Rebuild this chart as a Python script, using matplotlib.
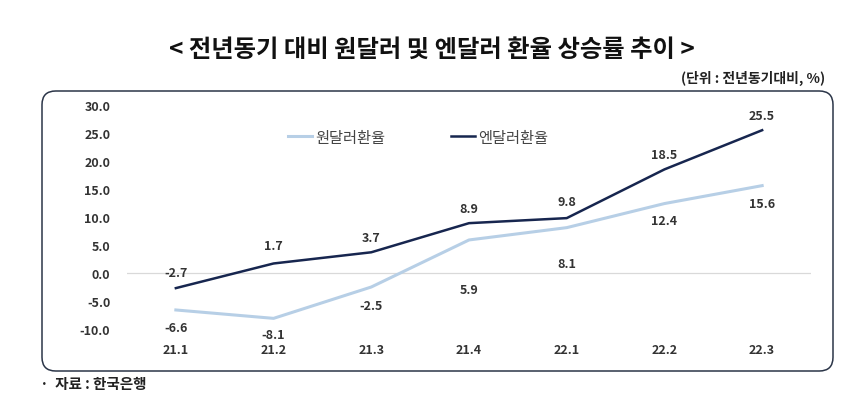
import matplotlib
matplotlib.use("Agg")
import matplotlib.pyplot as plt
from matplotlib.patches import FancyBboxPatch

plt.rcParams['font.family'] = ['Noto Sans CJK KR', 'DejaVu Sans']

categories = ["21.1", "21.2", "21.3", "21.4", "22.1", "22.2", "22.3"]
krw = [-6.6, -8.1, -2.5, 5.9, 8.1, 12.4, 15.6]
jpy = [-2.7, 1.7, 3.7, 8.9, 9.8, 18.5, 25.5]
krw_label_offset = [-18, -16, -19, -50, -36, -17, -18]
jpy_label_offset = [16, 18, 15, 15, 17, 15, 15]
yticks = [30, 25, 20, 15, 10, 5, 0, -5, -10]

light = "#b7cfe6"
dark = "#17264f"
text_c = "#333333"

fig = plt.figure(figsize=(8.58, 4.10), dpi=100)

# rounded frame
box = FancyBboxPatch((42/858, (410-372)/410), (833-42)/858, (372-92)/410,
                     boxstyle="round,pad=0,rounding_size=0.016",
                     transform=fig.transFigure, fill=False,
                     edgecolor="#2b3548", linewidth=1.1, mutation_aspect=858/410)
fig.patches.append(box)

ax = fig.add_axes([127/858, 80/410, 684/858, 224/410])
x = list(range(len(categories)))
ax.plot(x, krw, color=light, lw=2.2, label="원달러환율")
ax.plot(x, jpy, color=dark, lw=1.8, label="엔달러환율")
ax.axhline(0, color="#d9d9d9", lw=0.9, zorder=0)
ax.set_xlim(-0.5, 6.5)
ax.set_ylim(-10, 30)
ax.set_yticks(yticks)
ax.set_yticklabels([f"{v:.1f}" for v in yticks])
ax.set_xticks(x)
ax.set_xticklabels(categories)
for s in ax.spines.values():
    s.set_visible(False)
ax.tick_params(length=0, labelsize=9, colors=text_c, pad=12)
ax.tick_params(axis='x', pad=10)
for lab in ax.get_xticklabels() + ax.get_yticklabels():
    lab.set_fontweight('bold')

for xi, v, o in zip(x, krw, krw_label_offset):
    ax.annotate(f"{v:.1f}", (xi, v), xytext=(0, o), textcoords="offset pixels",
                ha="center", va="center", fontsize=9, fontweight="bold", color=text_c)
for xi, v, o in zip(x, jpy, jpy_label_offset):
    ax.annotate(f"{v:.1f}", (xi, v), xytext=(0, o), textcoords="offset pixels",
                ha="center", va="center", fontsize=9, fontweight="bold", color=text_c)

ax.legend(loc="upper left", bbox_to_anchor=(0.215, 0.955), ncol=2, frameon=False,
          fontsize=11, handlelength=1.6, handletextpad=0.2, columnspacing=4.3,
          labelcolor="#444444")

fig.text(432/858, 1-50/410, "< 전년동기 대비 원달러 및 엔달러 환율 상승률 추이 >",
         ha="center", va="center", fontsize=17.5, fontweight="bold", color="#111111")
fig.text(825/858, 1-78/410, "(단위 : 전년동기대비, %)", ha="right", va="center",
         fontsize=10, fontweight="bold", color="#222222")
fig.text(40/858, 1-384/410, "·  자료 : 한국은행", ha="left", va="center",
         fontsize=10.5, fontweight="bold", color="#222222")

fig.savefig("out.png", dpi=100)
